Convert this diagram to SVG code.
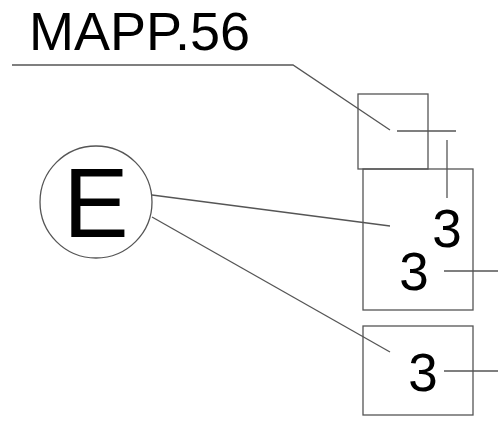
<svg xmlns="http://www.w3.org/2000/svg" width="498" height="422" viewBox="0 0 498 422">
<style>
.ln{fill:none;stroke:#555;stroke-width:1.3}
.t{font-family:"Liberation Sans",Arial,sans-serif;fill:#000}
</style>
<rect width="498" height="422" fill="#fff"/>
<g id="label-mapp"><text class="t" x="29" y="50" font-size="54">MAPP.56</text></g>
<g id="node-e">
<circle class="ln" cx="96" cy="202" r="56"/>
<text class="t" x="96" y="237" font-size="98" text-anchor="middle">E</text>
</g>
<g id="box-top"><rect class="ln" x="358" y="94" width="70" height="75"/></g>
<g id="box-mid">
<rect class="ln" x="363" y="169" width="110" height="141"/>
<text class="t" x="447" y="247" font-size="53" text-anchor="middle">3</text>
<text class="t" x="414" y="290" font-size="53" text-anchor="middle">3</text>
</g>
<g id="box-bot">
<rect class="ln" x="363" y="326" width="110" height="89"/>
<text class="t" x="423" y="391" font-size="53" text-anchor="middle">3</text>
</g>
<g id="connectors">
<polyline class="ln" points="12,65 293,65 390,130"/>
<line class="ln" x1="397" y1="131" x2="456" y2="131"/>
<line class="ln" x1="447" y1="140" x2="447" y2="198"/>
<line class="ln" x1="152" y1="195" x2="390" y2="226"/>
<line class="ln" x1="152" y1="217" x2="390" y2="352"/>
<line class="ln" x1="444" y1="271" x2="498" y2="271"/>
<line class="ln" x1="444" y1="371" x2="498" y2="371"/>
</g>
</svg>
